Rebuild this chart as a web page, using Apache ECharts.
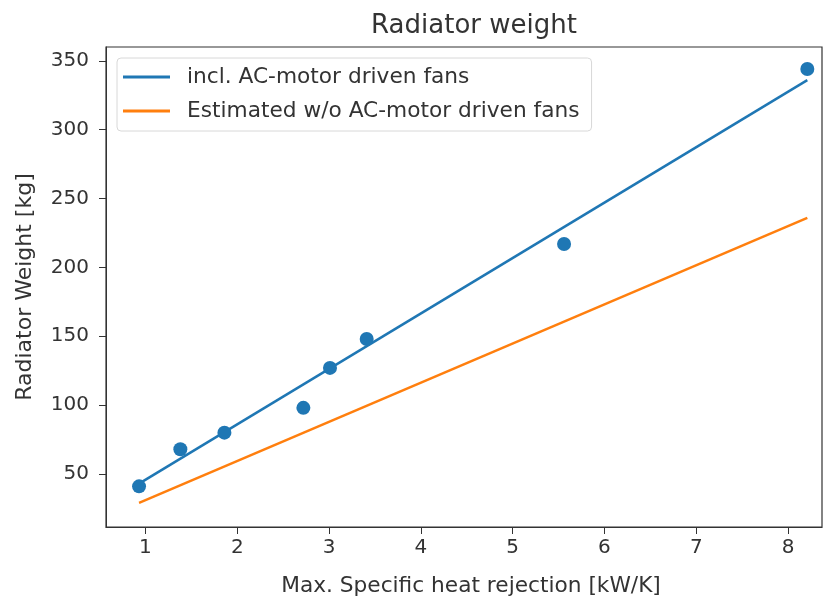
<!DOCTYPE html>
<html>
<head>
<meta charset="utf-8">
<script src="https://cdn.jsdelivr.net/npm/echarts@6/dist/echarts.min.js"></script>
<style>
  html, body { margin: 0; padding: 0; background: #fff; }
  #chart { width: 830px; height: 596px; }
</style>
</head>
<body>
<div id="chart"></div>
<script>
// measured points
const heatRejection = [0.93, 1.38, 1.86, 2.72, 3.01, 3.41, 5.56, 8.21];
const radiatorWeight = [41, 68, 80, 98, 127, 148, 217, 344];

// fitted lines (end points)
const fitX = [0.93, 8.21];
const fitInclFans = [43, 336];
const fitWithoutFans = [29, 236];

const xTicks = [1, 2, 3, 4, 5, 6, 7, 8];
const yTicks = [50, 100, 150, 200, 250, 300, 350];

const font = 'DejaVu Sans';
const txt = '#333';

const chart = echarts.init(document.getElementById('chart'));

chart.setOption({
    animation: false,
    title: {
        text: 'Radiator weight',
        left: 469,
        textAlign: 'center',
        top: 8,
        textStyle: { fontFamily: font, fontSize: 26, fontWeight: 'normal', color: txt }
    },
    legend: {
        orient: 'vertical',
        left: 117,
        top: 58,
        padding: [8, 12, 9, 6],
        itemWidth: 47,
        itemHeight: 3,
        itemGap: 12,
        icon: 'rect',
        backgroundColor: '#fff',
        borderColor: '#d8d8d8',
        borderWidth: 1,
        borderRadius: 4,
        textStyle: { fontFamily: font, fontSize: 21.7, color: txt, padding: [0, 0, 0, 12] },
        data: ['incl. AC-motor driven fans', 'Estimated w/o AC-motor driven fans']
    },
    grid: {
        left: 106, top: 47, right: 8, bottom: 69,
        outerBoundsMode: 'none',
        show: true, borderColor: '#333', borderWidth: 1.2
    },
    xAxis: {
        type: 'value',
        min: 0.57, max: 8.37,
        name: 'Max. Specific heat rejection [kW/K]',
        nameLocation: 'middle',
        nameGap: 48,
        nameTextStyle: { fontFamily: font, fontSize: 21.7, color: txt, padding: [0, 0, 0, 14] },
        splitLine: { show: false },
        axisLine: { lineStyle: { color: '#333' } },
        axisTick: { customValues: xTicks, length: 7, lineStyle: { color: '#333' } },
        axisLabel: { customValues: xTicks, fontFamily: font, fontSize: 20, color: txt, margin: 11 }
    },
    yAxis: {
        type: 'value',
        min: 11.5, max: 360,
        name: 'Radiator Weight [kg]',
        nameLocation: 'middle',
        nameGap: 70,
        nameTextStyle: { fontFamily: font, fontSize: 22, color: txt },
        splitLine: { show: false },
        axisLine: { show: true, lineStyle: { color: '#333' } },
        axisTick: { show: true, customValues: yTicks, length: 7, lineStyle: { color: '#333' } },
        axisLabel: { customValues: yTicks, fontFamily: font, fontSize: 20, color: txt, margin: 17 }
    },
    series: [
        {
            name: 'incl. AC-motor driven fans',
            type: 'line',
            data: fitX.map((x, i) => [x, fitInclFans[i]]),
            showSymbol: false,
            color: '#1f77b4',
            lineStyle: { width: 2.5, color: '#1f77b4' }
        },
        {
            name: 'Estimated w/o AC-motor driven fans',
            type: 'line',
            data: fitX.map((x, i) => [x, fitWithoutFans[i]]),
            showSymbol: false,
            color: '#ff7f0e',
            lineStyle: { width: 2.5, color: '#ff7f0e' }
        },
        {
            name: 'data',
            type: 'scatter',
            data: heatRejection.map((x, i) => [x, radiatorWeight[i]]),
            symbolSize: 14,
            itemStyle: { color: '#1f77b4', opacity: 1 },
            z: 5
        }
    ]
});
</script>
</body>
</html>
